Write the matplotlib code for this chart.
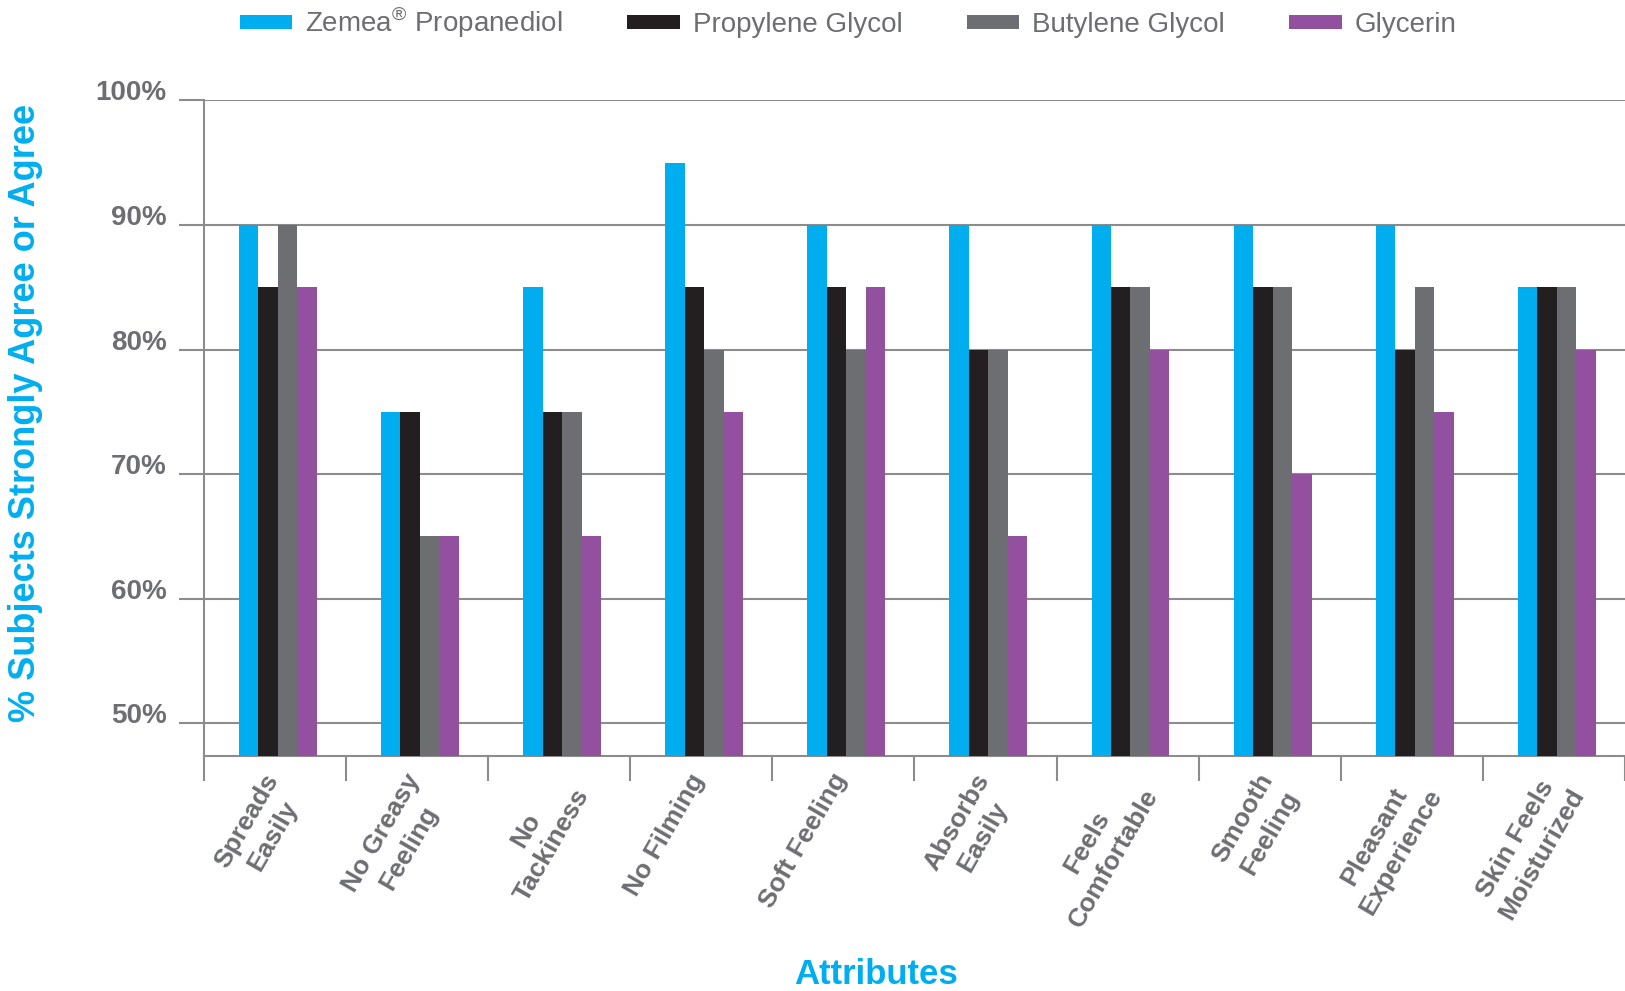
import numpy as np
import matplotlib.pyplot as plt
import matplotlib.transforms as mtransforms

plt.rcParams['font.family'] = ['Liberation Sans', 'DejaVu Sans']
plt.rcParams['mathtext.fontset'] = 'custom'
plt.rcParams['mathtext.rm'] = 'Liberation Sans'

# Data (% of subjects who strongly agree or agree)
attributes = ['Spreads\nEasily', 'No Greasy\nFeeling', 'No\nTackiness', 'No Filming',
              'Soft Feeling', 'Absorbs\nEasily', 'Feels\nComfortable', 'Smooth\nFeeling',
              'Pleasant\nExperience', 'Skin Feels\nMoisturized']
zemea = [90, 75, 85, 95, 90, 90, 90, 90, 90, 85]
propylene = [85, 75, 75, 85, 85, 80, 85, 85, 80, 85]
butylene = [90, 65, 75, 80, 80, 80, 85, 85, 85, 85]
glycerin = [85, 65, 65, 75, 85, 65, 80, 70, 75, 80]

series = [r'Zemea$^{®}$ Propanediol', 'Propylene Glycol', 'Butylene Glycol', 'Glycerin']
colors = ['#00AEEF', '#231F20', '#6D6E71', '#92509E']
grey = '#6D6E71'
blue = '#00AEEF'

fig = plt.figure(figsize=(16.25, 9.91), dpi=100, facecolor='w')
ax = fig.add_axes([0.1255, 0.2376, 0.8745, 0.661])

x = np.arange(len(attributes))
w = 0.137
for i, (vals, c, lab) in enumerate(zip([zemea, propylene, butylene, glycerin], colors, series)):
    ax.bar(x + 0.02 + (i - 1.5) * w, vals, w, color=c, label=lab, zorder=3)

ax.set_xlim(-0.5, len(attributes) - 0.5)
ax.set_ylim(47.4, 100)

# y axis: gridlines with ticks sticking out to the left
yt = [50, 60, 70, 80, 90, 100]
ax.set_yticks(yt, labels=['%d%%' % v for v in yt])
ax.grid(axis='y', color='#8C8C8C', lw=1.5, zorder=1)
ax.tick_params(axis='y', length=18, width=1.5, color='#8C8C8C', pad=9,
               labelsize=20, labelcolor=grey)
for t in ax.get_yticklabels():
    t.set_fontweight('bold')
    t.set_verticalalignment('baseline')

# x axis: ticks at category boundaries, labels at centres
ax.set_xticks(x, labels=attributes)
ax.set_xticks(np.arange(len(attributes) + 1) - 0.5, minor=True)
ax.tick_params(axis='x', which='major', length=0, pad=10, labelsize=19, labelcolor=grey)
ax.tick_params(axis='x', which='minor', length=18, width=1.5, color='#8C8C8C')
shift = mtransforms.ScaledTranslation(-9 / 72, 0, fig.dpi_scale_trans)
for t in ax.get_xticklabels():
    t.set_fontweight('bold')
    t.set_rotation(60)
    t.set_ha('right')
    t.set_va('top')
    t.set_rotation_mode('anchor')
    t.set_multialignment('center')
    t.set_linespacing(1.35)
    t.set_transform(t.get_transform() + shift)

for s in ('top', 'right'):
    ax.spines[s].set_visible(False)
for s in ('left', 'bottom'):
    ax.spines[s].set_color('#8C8C8C')
    ax.spines[s].set_linewidth(1.5)

fig.text(0.016, 0.583, '% Subjects Strongly Agree or Agree', rotation=90,
         ha='center', va='center', color=blue, fontsize=26, fontweight='bold')
fig.text(0.539, 0.017, 'Attributes', ha='center', va='center',
         color=blue, fontsize=25, fontweight='bold')

leg = fig.legend(loc='center', bbox_to_anchor=(0.522, 0.977), ncol=4, frameon=False,
                 fontsize=20, handlelength=1.9, handleheight=0.4,
                 handletextpad=0.47, columnspacing=2.3)
for t in leg.get_texts():
    t.set_color(grey)

fig.savefig('out.png', dpi=100)
